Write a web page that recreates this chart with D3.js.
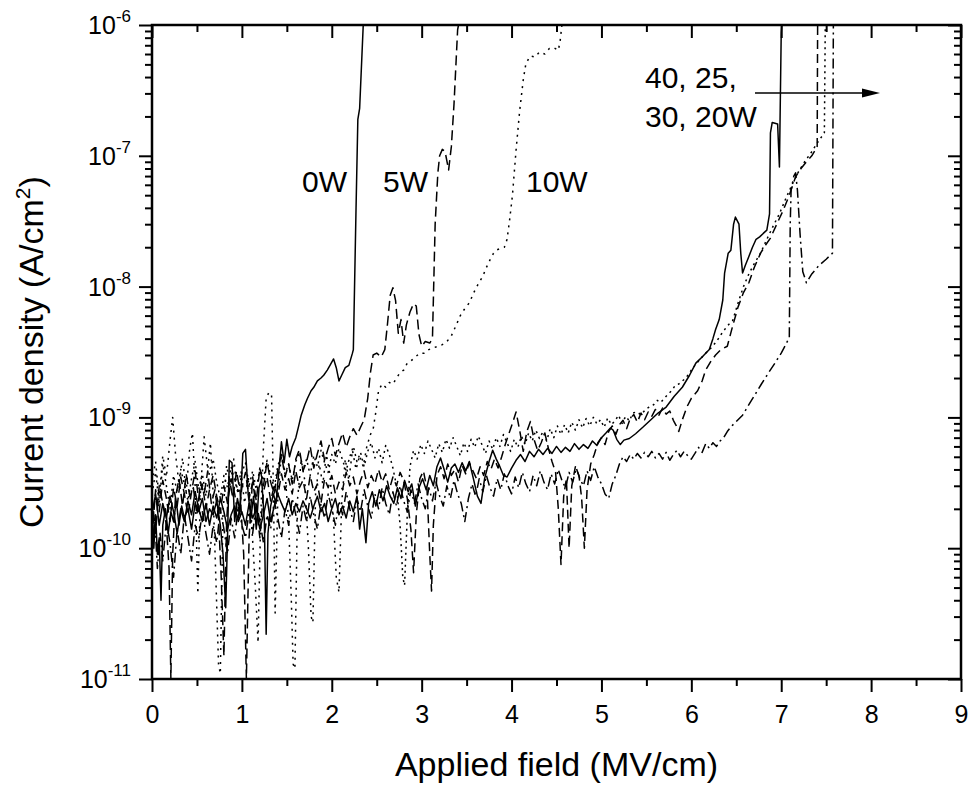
<!DOCTYPE html>
<html>
<head>
<meta charset="utf-8">
<script src="https://cdn.jsdelivr.net/npm/d3@7"></script>
<style>
body { margin: 0; background: #fff; }
text { font-family: Arial, "Liberation Sans", sans-serif; fill: #000; }
</style>
</head>
<body>
<div id="chart"></div>
<script>
// J-E curves: [field MV/cm, current density in units of 1e-10 A/cm2]
var curve0W = [[0.00,2.1],[0.02,1.0],[0.04,1.8],[0.06,0.9],[0.08,1.2],[0.10,0.4],[0.12,1.5],[0.15,2.0],[0.18,1.3],[0.21,1.9],[0.24,1.6],[0.27,2.3],[0.30,1.5],[0.33,2.1],[0.36,1.7],[0.40,2.0],[0.44,1.4],[0.48,2.2],[0.52,1.9],[0.56,2.4],[0.60,1.6],[0.64,2.0],[0.68,1.8],[0.72,2.3],[0.76,1.5],[0.79,0.9],[0.82,0.35],[0.84,1.2],[0.86,4.7],[0.89,4.5],[0.92,1.6],[0.95,2.4],[0.98,1.9],[1.01,5.3],[1.04,5.7],[1.07,2.6],[1.10,1.7],[1.13,2.5],[1.16,1.4],[1.19,2.9],[1.22,3.4],[1.25,1.6],[1.27,0.22],[1.29,1.3],[1.32,2.1],[1.35,2.6],[1.38,2.2],[1.41,3.8],[1.44,6.5],[1.47,4.5],[1.50,6.8],[1.53,5.0],[1.56,6.0],[1.60,7.0],[1.63,8.5],[1.66,10.4],[1.70,12.5],[1.73,14],[1.77,16],[1.80,17],[1.84,19],[1.88,20],[1.91,21],[1.95,23],[1.98,25],[2.02,28],[2.05,24],[2.08,19],[2.11,21],[2.15,24],[2.19,25],[2.23,31],[2.24,33],[2.27,400],[2.29,1900],[2.31,2300],[2.35,10000]];

var curve5W = [[0.00,2.5],[0.04,1.3],[0.08,3.0],[0.12,2.2],[0.16,1.5],[0.19,0.7],[0.21,0.1],[0.23,0.9],[0.26,2.4],[0.30,3.4],[0.34,2.1],[0.38,3.7],[0.42,2.5],[0.46,2.9],[0.50,1.8],[0.54,3.2],[0.58,2.6],[0.62,3.9],[0.66,2.2],[0.70,2.8],[0.74,1.7],[0.77,0.6],[0.80,0.15],[0.83,1.6],[0.86,3.4],[0.90,2.4],[0.94,3.9],[0.98,2.7],[1.02,0.9],[1.05,0.1],[1.08,1.2],[1.12,3.5],[1.16,2.3],[1.20,4.1],[1.24,3.0],[1.28,4.6],[1.32,3.2],[1.36,2.6],[1.40,4.0],[1.44,5.2],[1.48,3.5],[1.52,4.4],[1.56,3.1],[1.60,4.8],[1.64,5.7],[1.68,3.9],[1.72,4.6],[1.76,6.0],[1.80,4.1],[1.84,5.3],[1.88,6.6],[1.92,4.7],[1.96,5.8],[2.00,6.9],[2.04,5.1],[2.08,6.3],[2.12,7.6],[2.16,5.9],[2.20,7.1],[2.24,8.2],[2.28,7.3],[2.32,8.4],[2.36,9.6],[2.40,14],[2.43,22],[2.46,30],[2.50,31],[2.55,29],[2.59,33],[2.62,52],[2.65,86],[2.68,98],[2.71,78],[2.74,44],[2.77,56],[2.80,37],[2.83,51],[2.87,64],[2.91,74],[2.94,71],[2.97,43],[3.00,35],[3.04,38],[3.09,37],[3.12,40],[3.15,300],[3.18,740],[3.20,1000],[3.23,1120],[3.26,1080],[3.30,780],[3.33,1170],[3.36,2500],[3.40,9200],[3.41,10000]];

var curve10W = [[0.00,3.2],[0.04,4.6],[0.08,2.4],[0.12,5.1],[0.16,3.5],[0.20,6.6],[0.23,10],[0.26,5.4],[0.30,3.1],[0.34,4.9],[0.38,2.7],[0.42,5.8],[0.45,7.6],[0.48,3.0],[0.51,0.45],[0.54,2.8],[0.58,7.1],[0.62,4.0],[0.65,6.4],[0.68,2.6],[0.71,0.6],[0.74,0.13],[0.76,0.11],[0.79,1.9],[0.83,4.3],[0.87,3.0],[0.91,4.8],[0.95,2.7],[0.99,3.9],[1.03,2.2],[1.07,3.6],[1.11,1.5],[1.15,0.5],[1.18,0.19],[1.21,1.8],[1.24,6.0],[1.27,14],[1.30,15.5],[1.33,15],[1.35,3.0],[1.37,0.32],[1.40,2.5],[1.44,5.3],[1.48,3.8],[1.52,1.6],[1.55,0.4],[1.57,0.13],[1.59,0.12],[1.62,2.4],[1.66,4.7],[1.70,3.3],[1.74,1.0],[1.77,0.3],[1.79,0.27],[1.82,2.6],[1.86,4.4],[1.90,3.1],[1.94,5.2],[1.98,3.6],[2.02,1.6],[2.05,0.6],[2.08,0.46],[2.11,2.2],[2.15,4.8],[2.19,3.3],[2.23,5.6],[2.27,4.0],[2.31,5.1],[2.35,4.2],[2.39,6.0],[2.43,7.4],[2.46,8.1],[2.49,11],[2.52,16],[2.56,18],[2.60,17],[2.64,18.5],[2.68,18],[2.72,20],[2.76,22],[2.80,23],[2.84,26],[2.88,27],[2.93,29],[2.98,31],[3.03,31],[3.08,33],[3.13,34],[3.18,35],[3.23,36],[3.28,38],[3.33,42],[3.38,50],[3.43,60],[3.48,68],[3.53,75],[3.58,90],[3.63,105],[3.68,120],[3.72,140],[3.76,160],[3.80,180],[3.83,190],[3.87,195],[3.92,200],[3.95,230],[3.98,330],[4.01,500],[4.05,1100],[4.09,2200],[4.13,3800],[4.16,5100],[4.21,5800],[4.26,5700],[4.31,6200],[4.37,6000],[4.42,6600],[4.47,6700],[4.52,6400],[4.54,7500],[4.56,10000]];

var curve20W = [[0.00,0.9],[0.03,1.7],[0.06,0.7],[0.09,1.3],[0.12,0.8],[0.16,1.6],[0.20,1.1],[0.24,0.6],[0.28,1.4],[0.32,0.9],[0.36,1.8],[0.40,1.2],[0.44,0.8],[0.48,1.5],[0.52,1.2],[0.56,1.9],[0.60,1.3],[0.64,0.9],[0.68,1.5],[0.72,1.1],[0.76,2.0],[0.80,1.4],[0.84,0.9],[0.88,1.7],[0.92,1.2],[0.96,2.1],[1.00,1.5],[1.04,1.2],[1.08,1.9],[1.12,1.3],[1.16,2.2],[1.20,1.6],[1.24,1.1],[1.28,1.8],[1.32,1.4],[1.36,2.3],[1.40,1.7],[1.44,1.2],[1.48,2.0],[1.52,1.5],[1.56,2.4],[1.60,1.8],[1.64,1.3],[1.68,2.1],[1.72,1.6],[1.76,2.5],[1.80,1.8],[1.84,1.4],[1.88,2.2],[1.92,1.7],[1.96,2.6],[2.00,2.0],[2.04,1.5],[2.08,2.3],[2.12,1.8],[2.16,2.7],[2.20,2.0],[2.24,1.6],[2.28,2.4],[2.32,1.9],[2.36,2.8],[2.40,2.1],[2.44,1.7],[2.48,2.6],[2.52,2.0],[2.56,2.9],[2.60,2.2],[2.64,1.8],[2.68,2.7],[2.72,2.1],[2.76,3.0],[2.80,2.3],[2.84,1.9],[2.88,2.8],[2.92,2.2],[2.96,3.1],[3.00,2.4],[3.04,2.0],[3.08,2.9],[3.12,2.3],[3.16,3.2],[3.20,2.5],[3.24,2.1],[3.28,3.0],[3.32,2.4],[3.36,3.3],[3.40,2.6],[3.44,2.2],[3.48,1.6],[3.52,2.4],[3.56,3.1],[3.60,2.5],[3.64,3.4],[3.68,2.7],[3.72,3.6],[3.76,2.9],[3.80,2.5],[3.84,3.4],[3.88,2.8],[3.92,3.7],[3.96,3.0],[4.00,2.6],[4.04,3.5],[4.08,2.9],[4.12,3.8],[4.16,3.1],[4.20,2.7],[4.24,3.6],[4.28,3.0],[4.32,3.9],[4.36,3.2],[4.40,2.8],[4.44,3.7],[4.48,3.1],[4.52,4.0],[4.56,3.3],[4.60,2.9],[4.64,3.8],[4.68,3.2],[4.72,4.1],[4.76,3.4],[4.80,3.0],[4.84,3.9],[4.88,3.3],[4.92,4.2],[4.96,3.5],[5.00,3.1],[5.04,2.6],[5.08,2.4],[5.12,3.1],[5.16,3.6],[5.20,4.4],[5.24,5.0],[5.28,4.6],[5.32,5.2],[5.36,4.8],[5.40,5.3],[5.44,4.9],[5.48,5.4],[5.52,5.0],[5.56,5.5],[5.60,4.9],[5.64,5.3],[5.68,4.8],[5.72,5.4],[5.76,4.7],[5.80,5.2],[5.84,5.6],[5.88,5.0],[5.92,5.5],[5.96,5.1],[6.00,4.8],[6.04,5.3],[6.08,5.9],[6.12,5.4],[6.16,6.3],[6.20,5.8],[6.24,6.4],[6.28,6.0],[6.32,6.6],[6.36,7.0],[6.40,7.8],[6.45,8.6],[6.50,9.3],[6.57,10.4],[6.64,12.5],[6.71,15],[6.78,18],[6.86,22],[6.93,26],[7.00,31],[7.05,36],[7.09,41],[7.10,300],[7.11,550],[7.14,700],[7.16,740],[7.18,550],[7.21,250],[7.24,130],[7.28,107],[7.34,125],[7.42,145],[7.50,162],[7.57,180],[7.58,10000]];

var curve25W = [[0.00,1.2],[0.04,2.8],[0.08,1.9],[0.12,3.3],[0.16,2.4],[0.20,1.6],[0.24,2.9],[0.28,2.1],[0.32,3.5],[0.36,2.6],[0.40,1.8],[0.44,2.7],[0.48,3.9],[0.52,2.3],[0.56,3.1],[0.60,2.0],[0.64,2.8],[0.68,3.6],[0.72,2.5],[0.76,1.9],[0.80,3.0],[0.84,2.2],[0.88,3.4],[0.92,2.6],[0.96,1.7],[1.00,2.9],[1.04,3.8],[1.08,2.4],[1.12,3.2],[1.16,2.1],[1.20,1.2],[1.24,2.7],[1.28,3.5],[1.32,2.3],[1.36,3.0],[1.40,2.5],[1.44,3.7],[1.48,2.8],[1.52,3.4],[1.56,2.6],[1.60,3.9],[1.64,2.9],[1.68,3.3],[1.72,2.4],[1.76,3.6],[1.80,2.7],[1.84,3.1],[1.88,2.2],[1.92,3.4],[1.96,2.9],[2.00,3.6],[2.04,2.6],[2.08,3.2],[2.12,2.8],[2.16,3.8],[2.20,3.0],[2.24,3.5],[2.28,2.6],[2.32,3.3],[2.36,3.9],[2.40,2.9],[2.44,3.6],[2.48,3.1],[2.52,4.0],[2.56,3.2],[2.60,3.7],[2.64,2.8],[2.68,3.5],[2.72,3.0],[2.76,3.8],[2.80,3.3],[2.84,2.4],[2.88,1.4],[2.91,0.65],[2.94,1.8],[2.98,3.4],[3.02,3.9],[3.06,2.8],[3.09,0.9],[3.11,0.47],[3.13,1.5],[3.17,3.6],[3.21,4.2],[3.25,3.4],[3.29,4.4],[3.33,3.6],[3.37,4.0],[3.41,3.2],[3.45,4.3],[3.49,3.7],[3.53,4.5],[3.57,3.9],[3.61,3.4],[3.65,4.2],[3.69,3.6],[3.73,4.6],[3.77,4.0],[3.81,4.8],[3.85,4.1],[3.89,5.0],[3.93,6.2],[3.97,7.5],[4.01,9.0],[4.05,11],[4.09,8.0],[4.13,5.5],[4.17,7.8],[4.21,9.3],[4.25,6.8],[4.29,5.6],[4.33,6.4],[4.37,7.6],[4.41,5.8],[4.45,4.6],[4.49,3.8],[4.52,2.0],[4.55,0.75],[4.58,2.5],[4.61,3.4],[4.64,1.0],[4.67,3.0],[4.71,4.2],[4.75,3.6],[4.78,2.4],[4.81,1.0],[4.84,2.8],[4.88,4.4],[4.92,5.2],[4.96,6.4],[5.00,7.0],[5.04,6.2],[5.08,7.8],[5.12,8.6],[5.16,7.4],[5.20,8.8],[5.24,9.5],[5.28,8.2],[5.32,9.8],[5.36,10.5],[5.40,9.2],[5.44,10.8],[5.48,9.6],[5.52,11],[5.56,10.2],[5.60,11.5],[5.64,10.4],[5.68,11.8],[5.72,10.6],[5.76,11.2],[5.80,9.5],[5.83,8.7],[5.86,7.8],[5.90,9.6],[5.95,12],[6.00,14],[6.07,16],[6.12,19],[6.16,23],[6.22,27],[6.27,30],[6.33,33],[6.40,35],[6.46,50],[6.52,70],[6.58,90],[6.64,107],[6.70,140],[6.77,180],[6.83,210],[6.88,235],[6.95,300],[7.02,380],[7.09,500],[7.16,690],[7.22,800],[7.28,900],[7.34,1000],[7.40,1170],[7.405,10000]];

var curve30W = [[0.00,2.6],[0.04,3.8],[0.08,2.2],[0.12,4.4],[0.16,3.0],[0.20,2.0],[0.24,3.6],[0.28,2.7],[0.32,4.0],[0.36,3.1],[0.40,2.3],[0.44,3.4],[0.48,4.6],[0.52,2.8],[0.56,3.7],[0.60,2.5],[0.64,3.9],[0.68,4.8],[0.72,3.2],[0.76,2.4],[0.80,3.6],[0.84,2.9],[0.88,4.2],[0.92,3.3],[0.96,2.6],[1.00,3.8],[1.04,4.5],[1.08,3.0],[1.12,3.9],[1.16,2.8],[1.20,4.1],[1.24,3.4],[1.28,4.7],[1.32,3.6],[1.36,2.9],[1.40,4.3],[1.44,5.0],[1.48,3.7],[1.52,4.4],[1.56,3.3],[1.60,4.6],[1.64,5.4],[1.68,4.0],[1.72,4.8],[1.76,3.6],[1.80,5.1],[1.84,4.2],[1.88,5.6],[1.92,4.5],[1.96,3.8],[2.00,5.2],[2.04,4.4],[2.08,5.8],[2.12,4.7],[2.16,3.9],[2.20,5.0],[2.24,6.0],[2.28,4.6],[2.32,5.4],[2.36,4.2],[2.40,5.5],[2.44,6.4],[2.48,4.9],[2.52,5.8],[2.56,4.5],[2.60,6.1],[2.64,5.2],[2.68,4.1],[2.72,3.0],[2.76,1.5],[2.79,0.6],[2.81,0.52],[2.84,1.8],[2.87,4.2],[2.91,5.6],[2.95,4.8],[2.99,6.2],[3.03,5.3],[3.07,6.6],[3.11,5.7],[3.15,4.9],[3.19,6.3],[3.23,5.4],[3.27,6.8],[3.31,5.8],[3.35,7.0],[3.39,6.0],[3.43,5.1],[3.47,6.4],[3.51,5.5],[3.55,6.8],[3.59,5.9],[3.63,7.2],[3.67,6.2],[3.71,5.3],[3.75,6.6],[3.79,5.7],[3.83,7.0],[3.87,6.0],[3.91,7.4],[3.95,6.4],[3.99,5.5],[4.03,6.8],[4.07,5.9],[4.11,7.2],[4.15,6.2],[4.19,7.6],[4.23,6.6],[4.27,8.0],[4.31,6.9],[4.35,7.8],[4.39,6.6],[4.43,8.2],[4.47,7.0],[4.51,8.6],[4.55,7.4],[4.59,8.8],[4.63,7.6],[4.67,9.2],[4.71,8.0],[4.75,9.6],[4.79,8.3],[4.83,9.8],[4.87,8.6],[4.91,10],[4.95,8.9],[4.99,9.6],[5.03,8.4],[5.07,9.9],[5.11,8.8],[5.15,9.4],[5.19,10.4],[5.23,9.0],[5.27,10.2],[5.31,9.4],[5.35,10.8],[5.39,11],[5.44,10.5],[5.49,11.5],[5.53,12],[5.58,12.5],[5.62,13.5],[5.66,13],[5.70,14],[5.74,15],[5.78,16],[5.82,17.5],[5.86,18],[5.90,19],[5.94,20],[5.98,22],[6.04,25],[6.10,28],[6.16,31],[6.22,34],[6.28,38],[6.34,44],[6.40,50],[6.46,55],[6.52,75],[6.58,100],[6.64,125],[6.70,150],[6.77,180],[6.84,230],[6.91,290],[6.98,360],[7.05,470],[7.12,600],[7.19,750],[7.26,900],[7.33,1050],[7.40,1250],[7.48,1500],[7.49,10000]];

var curve40W = [[0.00,1.8],[0.04,2.6],[0.08,1.5],[0.12,2.2],[0.16,1.7],[0.20,2.5],[0.24,1.9],[0.28,1.3],[0.32,2.0],[0.36,1.6],[0.40,2.3],[0.44,1.8],[0.48,2.7],[0.52,2.0],[0.56,1.6],[0.60,2.2],[0.64,1.5],[0.68,2.1],[0.72,1.7],[0.76,2.4],[0.80,1.9],[0.84,1.4],[0.88,1.8],[0.92,2.1],[0.96,1.6],[1.00,1.9],[1.04,1.5],[1.08,2.2],[1.12,1.7],[1.16,2.0],[1.20,1.4],[1.24,1.8],[1.28,2.4],[1.32,1.6],[1.36,2.1],[1.40,2.6],[1.44,2.2],[1.48,1.9],[1.52,2.4],[1.56,1.8],[1.60,2.2],[1.64,1.9],[1.68,2.3],[1.72,2.0],[1.76,1.7],[1.80,2.1],[1.84,2.5],[1.88,1.9],[1.92,2.2],[1.96,1.6],[2.00,2.0],[2.04,2.4],[2.08,1.8],[2.12,2.1],[2.16,1.7],[2.20,2.3],[2.24,1.9],[2.28,2.5],[2.31,1.4],[2.34,2.0],[2.38,1.1],[2.41,2.2],[2.45,2.7],[2.49,2.1],[2.53,2.8],[2.57,2.3],[2.61,3.0],[2.65,2.5],[2.69,2.2],[2.73,2.9],[2.77,2.4],[2.81,3.3],[2.85,2.7],[2.89,3.1],[2.93,2.1],[2.97,2.9],[3.01,3.4],[3.05,2.8],[3.09,3.6],[3.13,3.0],[3.17,4.2],[3.21,4.9],[3.25,4.0],[3.29,3.2],[3.33,4.1],[3.37,4.4],[3.41,3.8],[3.45,4.5],[3.49,3.9],[3.53,4.6],[3.58,3.3],[3.62,2.5],[3.66,2.2],[3.70,3.4],[3.75,4.6],[3.79,5.6],[3.83,4.8],[3.87,4.2],[3.91,3.6],[3.95,3.5],[4.00,4.1],[4.05,4.7],[4.10,5.2],[4.15,4.6],[4.20,5.5],[4.25,5.0],[4.30,5.7],[4.35,5.2],[4.40,5.8],[4.45,5.3],[4.50,6.0],[4.55,5.4],[4.60,5.9],[4.65,5.5],[4.70,6.3],[4.75,5.7],[4.80,6.2],[4.85,5.8],[4.90,6.6],[4.95,6.1],[5.00,7.0],[5.05,7.6],[5.10,8.3],[5.13,8.0],[5.17,6.8],[5.21,6.2],[5.25,6.7],[5.31,6.9],[5.38,7.5],[5.46,8.4],[5.55,9.6],[5.63,10.8],[5.72,12],[5.81,14.5],[5.90,17],[5.98,21],[6.05,26],[6.12,29],[6.20,33],[6.24,40],[6.27,47],[6.31,56],[6.35,79],[6.37,127],[6.41,180],[6.44,190],[6.47,300],[6.49,340],[6.53,300],[6.55,180],[6.57,127],[6.60,145],[6.64,170],[6.68,200],[6.72,230],[6.76,240],[6.80,255],[6.84,270],[6.87,360],[6.88,1500],[6.90,1800],[6.96,1750],[6.98,820],[7.00,8700],[7.005,10000]];

var seriesNames = ['0W', '5W', '10W', '20W', '25W', '30W', '40W'];
var seriesData = [curve0W, curve5W, curve10W, curve20W, curve25W, curve30W, curve40W];
var seriesDash = ['none', '10,5', '2,5', '10,4,2,4', '9,5', '2,4', 'none'];

var xTicks = [0, 1, 2, 3, 4, 5, 6, 7, 8, 9];
var yExponents = [-11, -10, -9, -8, -7, -6];

var unit = 1e-10;

(function() {
  var W = 974, H = 789;
  var pLeft = 152, pRight = 961, pTop = 25, pBottom = 679;
  var fontFam = 'Arial, "Liberation Sans", sans-serif';

  var svg = d3.select('#chart')
    .append('svg')
    .attr('width', W)
    .attr('height', H);

  var x = d3.scaleLinear().domain([0, 9]).range([pLeft, pRight]);
  var y = d3.scaleLog().domain([1e-11, 1e-6]).range([pBottom, pTop]);

  // minor ticks
  var xMinor = d3.range(0.5, 9, 1);
  var yMinor = [];
  yExponents.slice(0, -1).forEach(function(e) {
    for (var k = 2; k <= 9; k++) yMinor.push(k * Math.pow(10, e));
  });
  var yMajor = yExponents.map(function(e) { return Math.pow(10, e); });

  svg.append('clipPath').attr('id', 'plotclip')
    .append('rect')
    .attr('x', pLeft).attr('y', pTop)
    .attr('width', pRight - pLeft).attr('height', pBottom - pTop);

  // curves
  var line = d3.line()
    .x(function(d) { return x(d[0]); })
    .y(function(d) { return y(d[1] * unit); });

  var g = svg.append('g').attr('clip-path', 'url(#plotclip)');
  seriesData.forEach(function(s, i) {
    g.append('path')
      .datum(s)
      .attr('class', 'curve c' + seriesNames[i])
      .attr('d', line)
      .attr('fill', 'none')
      .attr('stroke', '#000')
      .attr('stroke-width', 1.5)
      .attr('stroke-linejoin', 'round')
      .attr('stroke-dasharray', seriesDash[i]);
  });

  // axes
  function drawAxis(axis, tx, ty) {
    var a = svg.append('g')
      .attr('transform', 'translate(' + tx + ',' + ty + ')')
      .call(axis);
    a.select('.domain').remove();
    a.selectAll('line').attr('stroke', '#000').attr('stroke-width', 2);
    return a;
  }

  var xb = drawAxis(d3.axisBottom(x).tickValues(xTicks).tickSize(13).tickPadding(13).tickFormat(d3.format('d')), 0, pBottom);
  xb.attr('font-size', null).attr('font-family', null);
  xb.selectAll('text').style('font-size', '25px').style('font-family', fontFam);
  drawAxis(d3.axisBottom(x).tickValues(xMinor).tickSize(7).tickFormat(''), 0, pBottom);
  drawAxis(d3.axisTop(x).tickValues(xTicks).tickSize(-13).tickFormat(''), 0, pTop);
  drawAxis(d3.axisTop(x).tickValues(xMinor).tickSize(-7).tickFormat(''), 0, pTop);

  drawAxis(d3.axisLeft(y).tickValues(yMajor).tickSize(13).tickFormat(''), pLeft, 0);
  drawAxis(d3.axisLeft(y).tickValues(yMinor).tickSize(7).tickFormat(''), pLeft, 0);
  drawAxis(d3.axisRight(y).tickValues(yMajor).tickSize(-13).tickFormat(''), pRight, 0);
  drawAxis(d3.axisRight(y).tickValues(yMinor).tickSize(-7).tickFormat(''), pRight, 0);

  // y tick labels 10^n
  yExponents.forEach(function(e) {
    var t = svg.append('text')
      .attr('x', 131)
      .attr('y', y(Math.pow(10, e)) + 9)
      .attr('text-anchor', 'end')
      .style('font-size', '25px');
    t.append('tspan').text('10');
    t.append('tspan').style('font-size', '17px').attr('dy', -12).text(e);
  });

  // frame
  svg.append('rect')
    .attr('x', pLeft).attr('y', pTop)
    .attr('width', pRight - pLeft).attr('height', pBottom - pTop)
    .attr('fill', 'none')
    .attr('stroke', '#000')
    .attr('stroke-width', 2.5);

  // axis titles
  svg.append('text')
    .attr('x', (pLeft + pRight) / 2)
    .attr('y', 776)
    .attr('text-anchor', 'middle')
    .style('font-size', '34px')
    .text('Applied field (MV/cm)');

  var yt = svg.append('text')
    .attr('transform', 'translate(43,' + ((pTop + pBottom) / 2) + ') rotate(-90)')
    .attr('text-anchor', 'middle')
    .style('font-size', '34px');
  yt.append('tspan').text('Current density (A/cm');
  yt.append('tspan').style('font-size', '21px').attr('dy', -13).text('2');
  yt.append('tspan').attr('dy', 13).text(')');

  // curve labels
  var labels = [
    {t: '0W', x: 302, y: 192},
    {t: '5W', x: 383, y: 192},
    {t: '10W', x: 526, y: 192},
    {t: '40, 25,', x: 645, y: 88},
    {t: '30, 20W', x: 645, y: 127}
  ];
  svg.selectAll('text.clabel')
    .data(labels)
    .enter()
    .append('text')
    .attr('class', 'clabel')
    .attr('x', function(d) { return d.x; })
    .attr('y', function(d) { return d.y; })
    .style('font-size', '30px')
    .text(function(d) { return d.t; });

  // arrow
  svg.append('line')
    .attr('x1', 755).attr('y1', 93)
    .attr('x2', 864).attr('y2', 93)
    .attr('stroke', '#000')
    .attr('stroke-width', 1.5);
  svg.append('path')
    .attr('d', 'M862,88.5 L880,93 L862,97.5 Z')
    .attr('fill', '#000');
})();
</script>
</body>
</html>
